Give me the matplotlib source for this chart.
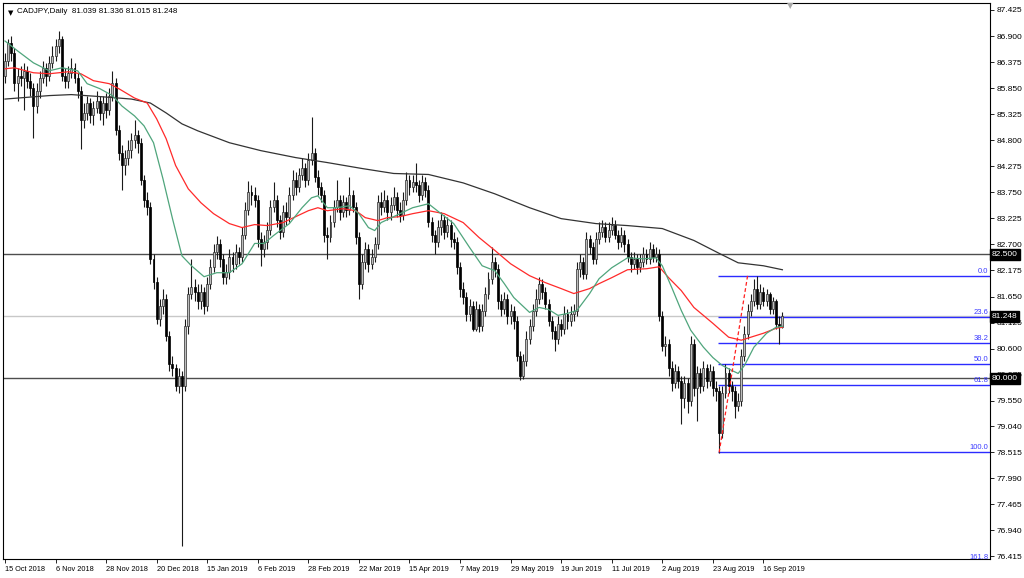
import matplotlib
matplotlib.use('Agg')
from matplotlib import pyplot as plt
from matplotlib import transforms
import numpy as np

# daily CADJPY candles, 15 Oct 2018 .. 24 Sep 2019
opens = [
    86.10, 86.40, 86.75, 86.55, 85.95, 86.10, 86.05, 86.20, 86.00, 85.85,
    85.50, 85.80, 86.05, 86.25, 86.10, 86.35, 86.50, 86.70, 86.85, 86.10,
    86.00, 86.15, 86.25, 86.05, 85.80, 85.20, 85.35, 85.55, 85.30, 85.45,
    85.60, 85.35, 85.55, 85.40, 85.70, 85.95, 85.00, 84.55, 84.30, 84.45,
    84.60, 84.80, 84.90, 84.75, 84.00, 83.60, 83.45, 82.40, 81.95, 81.20,
    81.45, 81.60, 80.85, 80.30, 80.20, 79.85, 80.05, 79.85, 81.05, 81.70,
    81.85, 81.75, 81.55, 81.75, 81.45, 81.90, 82.25, 82.55, 82.70, 82.40,
    82.05, 82.15, 82.45, 82.30, 82.55, 82.45, 82.90, 83.40, 83.75, 83.70,
    83.60, 82.80, 82.60, 82.75, 83.00, 83.45, 83.60, 83.20, 82.95, 83.35,
    83.25, 83.70, 84.00, 83.85, 84.10, 84.25, 84.00, 84.40, 84.55, 84.05,
    83.85, 83.70, 82.90, 82.85, 83.15, 83.45, 83.60, 83.35, 83.55, 83.40,
    83.70, 83.45, 82.85, 81.90, 82.35, 82.60, 82.30, 82.45, 82.70, 83.55,
    83.45, 83.60, 83.35, 83.50, 83.65, 83.40, 83.30, 83.60, 84.00, 83.85,
    83.95, 83.90, 83.70, 83.95, 83.80, 83.15, 82.90, 82.75, 83.05, 83.20,
    82.95, 83.10, 82.80, 82.75, 82.25, 81.80, 81.65, 81.30, 81.45, 81.00,
    81.40, 81.05, 81.35, 81.70, 82.00, 82.35, 82.20, 81.55, 81.40, 81.60,
    81.25, 81.35, 81.15, 80.45, 80.05, 80.35, 80.80, 81.05, 81.35, 81.60,
    81.90, 81.75, 81.50, 81.15, 80.95, 80.80, 81.10, 81.00, 81.30, 81.15,
    81.30, 81.35, 82.20, 82.35, 82.10, 82.80, 82.65, 82.40, 82.80, 82.95,
    83.05, 82.85, 83.00, 83.10, 82.90, 82.75, 82.90, 82.70, 82.45, 82.30,
    82.40, 82.25, 82.35, 82.50, 82.40, 82.60, 82.45, 82.50, 81.25, 80.65,
    80.70, 80.20, 79.90, 80.15, 79.95, 79.60, 79.90, 79.55, 80.70, 79.80,
    80.10, 79.85, 80.20, 79.95, 80.15, 79.80, 79.75, 78.90, 79.70, 80.10,
    79.85, 79.75, 79.45, 79.55, 80.45, 80.90, 81.35, 81.55, 81.80, 81.50,
    81.75, 81.55, 81.70, 81.40, 81.55, 81.10, 81.039]
highs = [
    86.55, 86.85, 86.90, 86.65, 86.25, 86.30, 86.35, 86.30, 86.15, 85.95,
    85.95, 86.20, 86.40, 86.35, 86.50, 86.70, 86.85, 87.00, 86.90, 86.25,
    86.30, 86.45, 86.35, 86.15, 85.90, 85.55, 85.70, 85.65, 85.60, 85.80,
    85.70, 85.70, 85.75, 85.85, 86.20, 86.05, 85.10, 84.70, 84.60, 84.80,
    84.95, 85.20, 85.00, 84.85, 84.10, 83.75, 83.55, 82.50, 82.05, 81.60,
    81.80, 81.70, 80.95, 80.45, 80.30, 80.20, 80.15, 81.20, 81.85, 82.40,
    82.00, 81.90, 81.90, 81.85, 82.05, 82.40, 82.70, 82.88, 82.80, 82.50,
    82.30, 82.60, 82.55, 82.70, 82.65, 83.05, 83.55, 83.98, 83.90, 83.85,
    83.70, 82.95, 82.90, 83.15, 83.60, 83.95, 83.70, 83.30, 83.50, 83.55,
    83.85, 84.20, 84.15, 84.25, 84.45, 84.35, 84.55, 85.26, 84.65, 84.20,
    83.95, 83.80, 83.05, 83.30, 83.60, 84.00, 83.70, 83.70, 83.65, 84.05,
    83.80, 83.55, 82.95, 82.50, 82.75, 82.70, 82.60, 82.85, 83.70, 83.75,
    83.80, 83.70, 83.65, 83.85, 83.75, 83.55, 83.75, 84.15, 84.10, 84.10,
    84.35, 84.00, 84.10, 84.05, 83.90, 83.25, 83.00, 83.20, 83.35, 83.30,
    83.25, 83.20, 82.95, 82.85, 82.35, 81.95, 81.75, 81.60, 81.55, 81.55,
    81.50, 81.50, 81.85, 82.15, 82.64, 82.45, 82.30, 81.70, 81.75, 81.70,
    81.50, 81.45, 81.25, 80.55, 80.50, 80.95, 81.20, 81.50, 81.80, 82.05,
    82.00, 81.85, 81.60, 81.25, 81.05, 81.25, 81.20, 81.45, 81.40, 81.45,
    81.50, 82.35, 82.50, 82.45, 82.95, 82.90, 82.75, 82.95, 83.15, 83.20,
    83.15, 83.15, 83.25, 83.20, 83.00, 83.05, 83.00, 82.80, 82.55, 82.55,
    82.50, 82.50, 82.65, 82.60, 82.75, 82.70, 82.65, 82.60, 81.35, 80.85,
    80.80, 80.35, 80.30, 80.25, 80.05, 80.05, 80.00, 80.85, 80.80, 80.25,
    80.20, 80.35, 80.30, 80.30, 80.25, 79.95, 79.85, 79.85, 80.30, 80.20,
    79.95, 79.85, 79.70, 80.60, 81.05, 81.50, 81.70, 82.00, 82.07, 81.90,
    81.85, 81.80, 81.75, 81.65, 81.60, 81.25, 81.336]
lows = [
    85.95, 86.30, 86.40, 85.80, 85.60, 85.90, 85.40, 85.85, 85.70, 84.85,
    85.35, 85.65, 85.95, 85.90, 86.00, 86.25, 86.40, 86.55, 86.00, 85.85,
    85.85, 86.05, 85.95, 85.65, 84.63, 85.05, 85.20, 85.15, 85.10, 85.35,
    85.20, 85.10, 85.25, 85.30, 85.60, 84.90, 84.40, 83.80, 84.10, 84.30,
    84.45, 84.65, 84.55, 83.90, 83.45, 83.30, 82.30, 81.80, 81.10, 81.05,
    81.30, 80.75, 80.15, 80.05, 79.75, 79.70, 76.62, 79.75, 80.90, 81.60,
    81.55, 81.40, 81.40, 81.29, 81.35, 81.80, 82.15, 82.40, 82.25, 81.90,
    81.90, 82.00, 82.15, 82.20, 82.30, 82.35, 82.80, 83.30, 83.50, 83.45,
    82.65, 82.27, 82.45, 82.60, 82.90, 83.35, 83.05, 82.80, 82.85, 83.10,
    83.15, 83.60, 83.70, 83.75, 84.00, 83.85, 83.90, 84.30, 83.95, 83.70,
    83.55, 82.75, 82.41, 82.75, 83.05, 83.35, 83.20, 83.25, 83.25, 83.30,
    83.35, 82.70, 81.60, 81.80, 82.20, 82.15, 82.20, 82.35, 82.60, 83.30,
    83.35, 83.20, 83.20, 83.40, 83.25, 83.15, 83.20, 83.50, 83.70, 83.75,
    83.75, 83.55, 83.60, 83.65, 83.05, 82.75, 82.50, 82.65, 82.90, 82.80,
    82.85, 82.65, 82.60, 82.10, 81.65, 81.50, 81.15, 81.15, 80.95, 80.95,
    80.93, 80.95, 81.25, 81.60, 81.90, 82.05, 81.40, 81.25, 81.30, 81.10,
    81.10, 81.00, 80.35, 79.96, 79.98, 80.25, 80.70, 80.95, 81.25, 81.50,
    81.60, 81.40, 81.05, 80.80, 80.56, 80.70, 80.85, 80.90, 81.00, 81.05,
    81.15, 81.25, 82.05, 82.00, 82.00, 82.50, 82.30, 82.30, 82.70, 82.85,
    82.75, 82.75, 82.90, 82.80, 82.60, 82.65, 82.55, 82.35, 82.15, 82.20,
    82.10, 82.15, 82.25, 82.30, 82.30, 82.35, 82.35, 81.15, 80.55, 80.45,
    80.05, 79.75, 79.80, 79.80, 79.09, 79.40, 79.30, 79.45, 79.65, 79.15,
    79.70, 79.75, 79.80, 79.85, 79.65, 79.55, 78.50, 78.80, 79.60, 79.70,
    79.55, 79.20, 79.35, 79.45, 80.35, 80.80, 81.25, 81.45, 81.40, 81.40,
    81.45, 81.45, 81.30, 81.30, 81.00, 80.70, 81.015]
closes = [
    86.40, 86.75, 86.55, 85.95, 86.10, 86.05, 86.20, 86.00, 85.85, 85.50,
    85.80, 86.05, 86.25, 86.10, 86.35, 86.50, 86.70, 86.85, 86.10, 86.00,
    86.15, 86.25, 86.05, 85.80, 85.20, 85.35, 85.55, 85.30, 85.45, 85.60,
    85.35, 85.55, 85.40, 85.70, 85.95, 85.00, 84.55, 84.30, 84.45, 84.60,
    84.80, 84.90, 84.75, 84.00, 83.60, 83.45, 82.40, 81.95, 81.20, 81.45,
    81.60, 80.85, 80.30, 80.20, 79.85, 80.05, 79.85, 81.05, 81.70, 81.85,
    81.75, 81.55, 81.75, 81.45, 81.90, 82.25, 82.55, 82.70, 82.40, 82.05,
    82.15, 82.45, 82.30, 82.55, 82.45, 82.90, 83.40, 83.75, 83.70, 83.60,
    82.80, 82.60, 82.75, 83.00, 83.45, 83.60, 83.20, 82.95, 83.35, 83.25,
    83.70, 84.00, 83.85, 84.10, 84.25, 84.00, 84.40, 84.55, 84.05, 83.85,
    83.70, 82.90, 82.85, 83.15, 83.45, 83.60, 83.35, 83.55, 83.40, 83.70,
    83.45, 82.85, 81.90, 82.35, 82.60, 82.30, 82.45, 82.70, 83.55, 83.45,
    83.60, 83.35, 83.50, 83.65, 83.40, 83.30, 83.60, 84.00, 83.85, 83.95,
    83.90, 83.70, 83.95, 83.80, 83.15, 82.90, 82.75, 83.05, 83.20, 82.95,
    83.10, 82.80, 82.75, 82.25, 81.80, 81.65, 81.30, 81.45, 81.00, 81.40,
    81.05, 81.35, 81.70, 82.00, 82.35, 82.20, 81.55, 81.40, 81.60, 81.25,
    81.35, 81.15, 80.45, 80.05, 80.35, 80.80, 81.05, 81.35, 81.60, 81.90,
    81.75, 81.50, 81.15, 80.95, 80.80, 81.10, 81.00, 81.30, 81.15, 81.30,
    81.35, 82.20, 82.35, 82.10, 82.80, 82.65, 82.40, 82.80, 82.95, 83.05,
    82.85, 83.00, 83.10, 82.90, 82.75, 82.90, 82.70, 82.45, 82.30, 82.40,
    82.25, 82.35, 82.50, 82.40, 82.60, 82.45, 82.50, 81.25, 80.65, 80.70,
    80.20, 79.90, 80.15, 79.95, 79.60, 79.90, 79.55, 80.70, 79.80, 80.10,
    79.85, 80.20, 79.95, 80.15, 79.80, 79.75, 78.90, 79.70, 80.10, 79.85,
    79.75, 79.45, 79.55, 80.45, 80.90, 81.35, 81.55, 81.80, 81.50, 81.75,
    81.55, 81.70, 81.40, 81.55, 81.10, 81.04, 81.248]

# moving averages, sampled along the drawn lines (bar index, price)
ma_slow_idx = [0, 14, 21, 30, 40, 46, 51, 56, 61, 71, 81, 92, 102, 113, 123,
               134, 145, 155, 166, 176, 187, 197, 208, 218, 226, 232, 240, 246]
ma_slow_val = [85.63, 85.70, 85.72, 85.68, 85.63, 85.55, 85.35, 85.13, 84.99,
               84.75, 84.59, 84.45, 84.35, 84.23, 84.13, 84.11, 83.94, 83.72,
               83.44, 83.22, 83.12, 83.08, 83.02, 82.78, 82.52, 82.33, 82.27,
               82.19]
ma_mid_idx = [0, 3, 9, 14, 20, 24, 28, 33, 36, 41, 45, 48, 51, 54, 58, 62, 66,
              71, 75, 79, 83, 88, 92, 96, 99, 102, 107, 111, 114, 118, 121, 125,
              129, 134, 139, 145, 150, 155, 160, 166, 171, 176, 180, 185, 188,
              192, 197, 203, 207, 210, 214, 218, 224, 229, 233, 236, 240, 244,
              246]
ma_mid_val = [86.24, 86.26, 86.16, 86.14, 86.18, 86.14, 86.00, 85.94, 85.84,
              85.65, 85.55, 85.23, 84.83, 84.29, 83.82, 83.54, 83.32, 83.12,
              83.04, 83.10, 83.08, 83.14, 83.26, 83.38, 83.44, 83.38, 83.42,
              83.38, 83.24, 83.18, 83.24, 83.26, 83.32, 83.38, 83.32, 83.14,
              82.84, 82.58, 82.31, 82.07, 81.93, 81.81, 81.71, 81.81, 81.91,
              82.03, 82.19, 82.21, 82.25, 82.03, 81.77, 81.43, 81.11, 80.83,
              80.77, 80.83, 80.91, 81.01, 81.03]
ma_fast_idx = [0, 4, 9, 14, 18, 23, 26, 30, 34, 37, 41, 44, 47, 50, 53, 56, 59,
               63, 67, 71, 75, 79, 82, 85, 90, 94, 97, 99, 102, 105, 109, 112,
               115, 117, 119, 123, 129, 134, 138, 142, 147, 151, 155, 158, 161,
               166, 169, 172, 175, 178, 181, 185, 188, 192, 197, 202, 206, 208,
               211, 214, 217, 221, 224, 227, 230, 232, 234, 237, 241, 244, 246]
ma_fast_val = [86.80, 86.60, 86.36, 86.20, 86.26, 86.20, 85.94, 85.84, 85.70,
               85.49, 85.29, 85.09, 84.75, 84.02, 83.22, 82.47, 82.27, 82.05,
               82.13, 82.13, 82.31, 82.72, 82.72, 82.88, 83.12, 83.44, 83.64,
               83.68, 83.44, 83.44, 83.48, 83.32, 83.04, 82.98, 83.14, 83.26,
               83.44, 83.52, 83.32, 83.12, 82.64, 82.27, 82.17, 81.91, 81.63,
               81.33, 81.43, 81.39, 81.27, 81.31, 81.37, 81.71, 82.01, 82.23,
               82.43, 82.41, 82.43, 82.27, 81.83, 81.37, 80.97, 80.63, 80.42,
               80.26, 80.16, 80.10, 80.26, 80.63, 80.91, 81.03, 81.05]

# fibonacci retracement anchors
fib_low_idx, fib_low = 226, 78.51
fib_high_idx, fib_high = 235, 82.073
fib_levels = [0.0, 23.6, 38.2, 50.0, 61.8, 100.0, 161.8]

hlines = [82.5, 80.0]
bid = 81.248

date_ticks = [0, 16, 32, 48, 64, 80, 96, 112, 128, 144, 160, 176, 192, 208,
              224, 240]
date_labels = ['15 Oct 2018', '6 Nov 2018', '28 Nov 2018', '20 Dec 2018',
               '15 Jan 2019', '6 Feb 2019', '28 Feb 2019', '22 Mar 2019',
               '15 Apr 2019', '7 May 2019', '29 May 2019', '19 Jun 2019',
               '11 Jul 2019', '2 Aug 2019', '23 Aug 2019', '16 Sep 2019']
price_ticks = [87.425, 86.900, 86.375, 85.850, 85.325, 84.800, 84.275, 83.750,
               83.225, 82.700, 82.175, 81.650, 81.125, 80.600, 80.075, 79.550,
               79.040, 78.515, 77.990, 77.465, 76.940, 76.415]

FONT = 'Liberation Sans'


def main():
    fig = plt.figure(figsize=(10.24, 5.78), dpi=100)
    ax = fig.add_axes([3 / 1024, 19 / 578, 987 / 1024, 556 / 578])
    draw_candles(ax)
    draw_studies(ax)
    format_axes(ax, fig)
    fig.savefig('out.png', dpi=100)


def draw_candles(ax):
    o = np.array(opens)
    h = np.array(highs)
    l = np.array(lows)
    c = np.array(closes)
    x = np.arange(len(c))

    ax.vlines(x, l, h, color='#1a1a1a', lw=0.8, zorder=3)
    up = c >= o
    body = np.maximum(np.abs(c - o), 0.015)
    ax.bar(x[up], body[up], bottom=o[up], width=0.62, color='#bdbdbd',
           edgecolor='#2a2a2a', linewidth=0.5, zorder=4)
    ax.bar(x[~up], body[~up], bottom=c[~up], width=0.62, color='black',
           edgecolor='black', linewidth=0.5, zorder=4)


def draw_studies(ax):
    ax.plot(ma_slow_idx, ma_slow_val, color='#333333', lw=0.9, zorder=5)
    ax.plot(ma_mid_idx, ma_mid_val, color='#ff2a2a', lw=0.9, zorder=5)
    ax.plot(ma_fast_idx, ma_fast_val, color='#4fa57c', lw=0.9, zorder=5)

    for p in hlines:
        ax.axhline(p, color='#4d4d4d', lw=1.0, zorder=1)
    ax.axhline(bid, color='#c8c8c8', lw=1.0, zorder=1)

    # fibonacci
    rng = fib_high - fib_low
    for lv in fib_levels:
        p = fib_high - rng * lv / 100.0
        ax.hlines(p, fib_low_idx - 0.3, 320, color='#2b2bff', lw=1.0, zorder=2)
        ax.text(311.2, p + 0.02, '%.1f' % lv, color='#3a3aff', fontsize=5.5,
                family=FONT, ha='right', va='bottom', zorder=6, clip_on=True)
    ax.plot([fib_low_idx, fib_high_idx], [fib_low, fib_high], color='#ff2020',
            lw=0.9, ls=(0, (3, 2)), zorder=6)


def format_axes(ax, fig):
    ax.set_xlim(-0.63, 311.7)
    ax.set_ylim(76.36, 87.566)
    for s in ax.spines.values():
        s.set_color('black')
        s.set_linewidth(0.8)

    ax.yaxis.tick_right()
    ax.set_yticks(price_ticks)
    ax.set_yticklabels(['%.3f' % p for p in price_ticks], family=FONT)
    ax.tick_params(axis='y', labelsize=6, length=3, width=0.6, pad=2,
                   colors='black')

    ax.set_xticks(date_ticks)
    ax.set_xticklabels(date_labels, ha='left', family=FONT)
    ax.tick_params(axis='x', labelsize=5.3, length=3, width=0.6, pad=2)

    trans = transforms.blended_transform_factory(ax.transAxes, ax.transData)
    for p in hlines + [bid]:
        ax.text(1.002, p, '%.3f' % p, transform=trans, fontsize=6,
                family=FONT, color='white', ha='left', va='center', zorder=10,
                bbox=dict(boxstyle='square,pad=0.2', fc='black', ec='black'))

    ax.text(0.005, 0.988, '\u25BC', transform=ax.transAxes, fontsize=5,
            va='top', ha='left')
    ax.text(0.0145, 0.991, 'CADJPY,Daily  81.039 81.336 81.015 81.248',
            transform=ax.transAxes, fontsize=5.8, family=FONT, va='top',
            ha='left')
    fig.text(790 / 1024, 1 - 6 / 578, '\u25BC', fontsize=6, color='#a8a8a8',
             ha='center', va='center')


main()
